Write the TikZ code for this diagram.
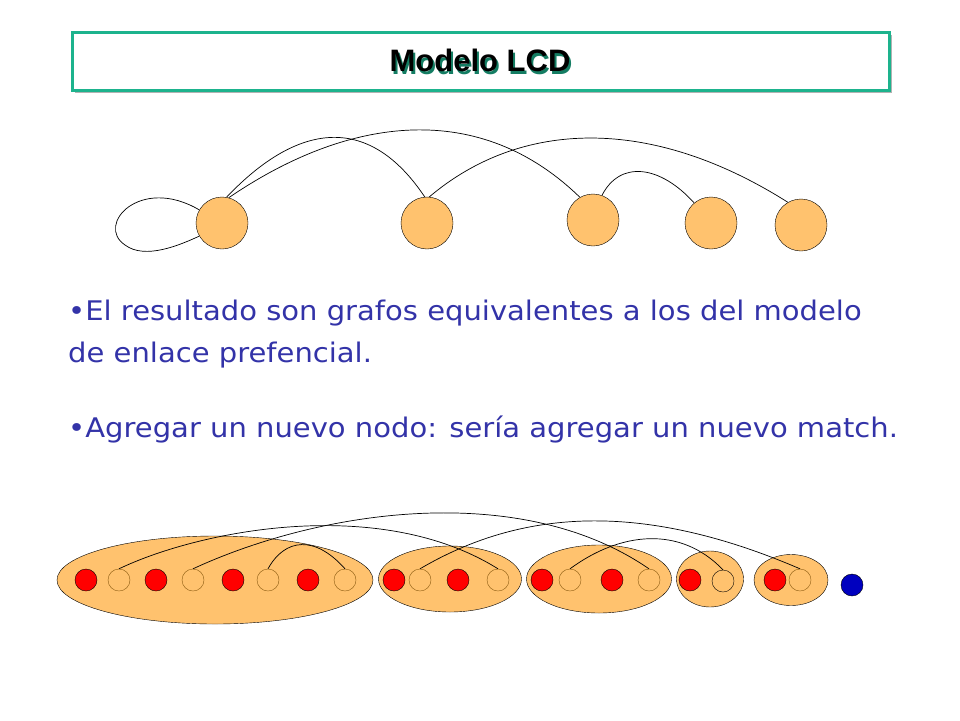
\documentclass[tikz,border=0pt]{standalone}
\usepackage{fontspec}
\usetikzlibrary{shapes.geometric}
\setmainfont{DejaVu Sans}
\newfontfamily\titlefont{Liberation Sans}
\definecolor{orng}{HTML}{FFC26E}
\definecolor{txtblue}{HTML}{3333A8}
\definecolor{teal1}{HTML}{1DB38D}
\definecolor{edgebrown}{HTML}{8A5A10}
\begin{document}
\begin{tikzpicture}[x=1pt,y=-1pt,
  big/.style={circle,draw=black,fill=orng,minimum size=52pt,inner sep=0pt},
  grp/.style={ellipse,draw=black,fill=orng,inner sep=0pt},
  rd/.style={circle,draw=black,fill=red,minimum size=22pt,inner sep=0pt},
  op/.style={circle,draw=edgebrown,minimum size=22pt,inner sep=0pt},
  opk/.style={circle,draw=black,minimum size=22pt,inner sep=0pt},
  bl/.style={circle,draw=black,fill=blue!75!black,minimum size=22pt,inner sep=0pt},
  ed/.style={draw=black,line width=0.7pt},
  txt/.style={anchor=west,text=txtblue,font=\fontsize{27}{32}\selectfont,inner sep=0pt}]
\useasboundingbox (0,0) rectangle (960,720);
% title
\fill[gray!60] (75,35) rectangle (892,93);
\node[draw=teal1,line width=3pt,fill=white,minimum width=817pt,minimum height=58pt,inner sep=0pt] (tbox) at (480.5,61) {};
\node[text=teal1!70!black] (tsh) at (482,63) {\titlefont\bfseries\fontsize{31}{34}\selectfont Modelo LCD};
\node (title) at (480,60) {\titlefont\bfseries\fontsize{31}{34}\selectfont Modelo LCD};
% top graph
\node[big] (A) at (222,223) {};
\node[big] (B) at (427,223) {};
\node[big] (C) at (593,220) {};
\node[big] (D) at (711,223) {};
\node[big] (E) at (801,225) {};
\draw[ed] (A.150) .. controls (140,175) and (95,225) .. (125,245) .. controls (145,260) and (180,245) .. (A.210);
\draw[ed] (A.80) .. controls (300,120) and (370,115) .. (B.95);
\draw[ed] (A.75) .. controls (350,115) and (480,100) .. (C.120);
\draw[ed] (B.85) .. controls (520,120) and (650,115) .. (E.120);
\draw[ed] (C.70) .. controls (620,160) and (660,165) .. (D.130);
% text
\node[txt] (t1) at (68,313) {\scalebox{1.075}[1]{•El resultado son grafos equivalentes a los del modelo}};
\node[txt] (t2) at (68,355) {\scalebox{1.075}[1]{de enlace prefencial.}};
\node[txt] (t3) at (68,430) {\scalebox{1.075}[1]{•Agregar un nuevo nodo: sería agregar un nuevo match.}};
% bottom groups
\node[grp,minimum width=316pt,minimum height=88pt] (g1) at (215,580) {};
\node[grp,minimum width=143pt,minimum height=66pt] (g2) at (450,579) {};
\node[grp,minimum width=145pt,minimum height=68pt] (g3) at (599,579) {};
\node[grp,minimum width=67pt,minimum height=56pt] (g4) at (710,579) {};
\node[grp,minimum width=74pt,minimum height=51pt] (g5) at (791,580) {};
\foreach \x/\n in {86/r1,156/r2,233/r3,308/r4,394/r5,458/r6,542/r7,612/r8,690/r9,775/r10}
  \node[rd] (\n) at (\x,580) {};
\foreach \x/\n in {119/o1,193/o2,268/o3,345/o4,420/o5,498/o6,570/o7,649/o8,800/o10}
  \node[op] (\n) at (\x,580) {};
\node[opk] (o9) at (723,581) {};
\node[bl] (bz) at (852,585) {};
\draw[ed] (o1.north) .. controls (200,530) and (380,495) .. (o6.north);
\draw[ed] (o2.north) .. controls (320,510) and (520,480) .. (o8.north);
\draw[ed] (o3.north) .. controls (285,538) and (315,535) .. (o4.north);
\draw[ed] (o5.north) .. controls (520,510) and (640,500) .. (o10.north);
\draw[ed] (o7.north) .. controls (620,532) and (680,525) .. (o9.north);
\end{tikzpicture}
\end{document}
